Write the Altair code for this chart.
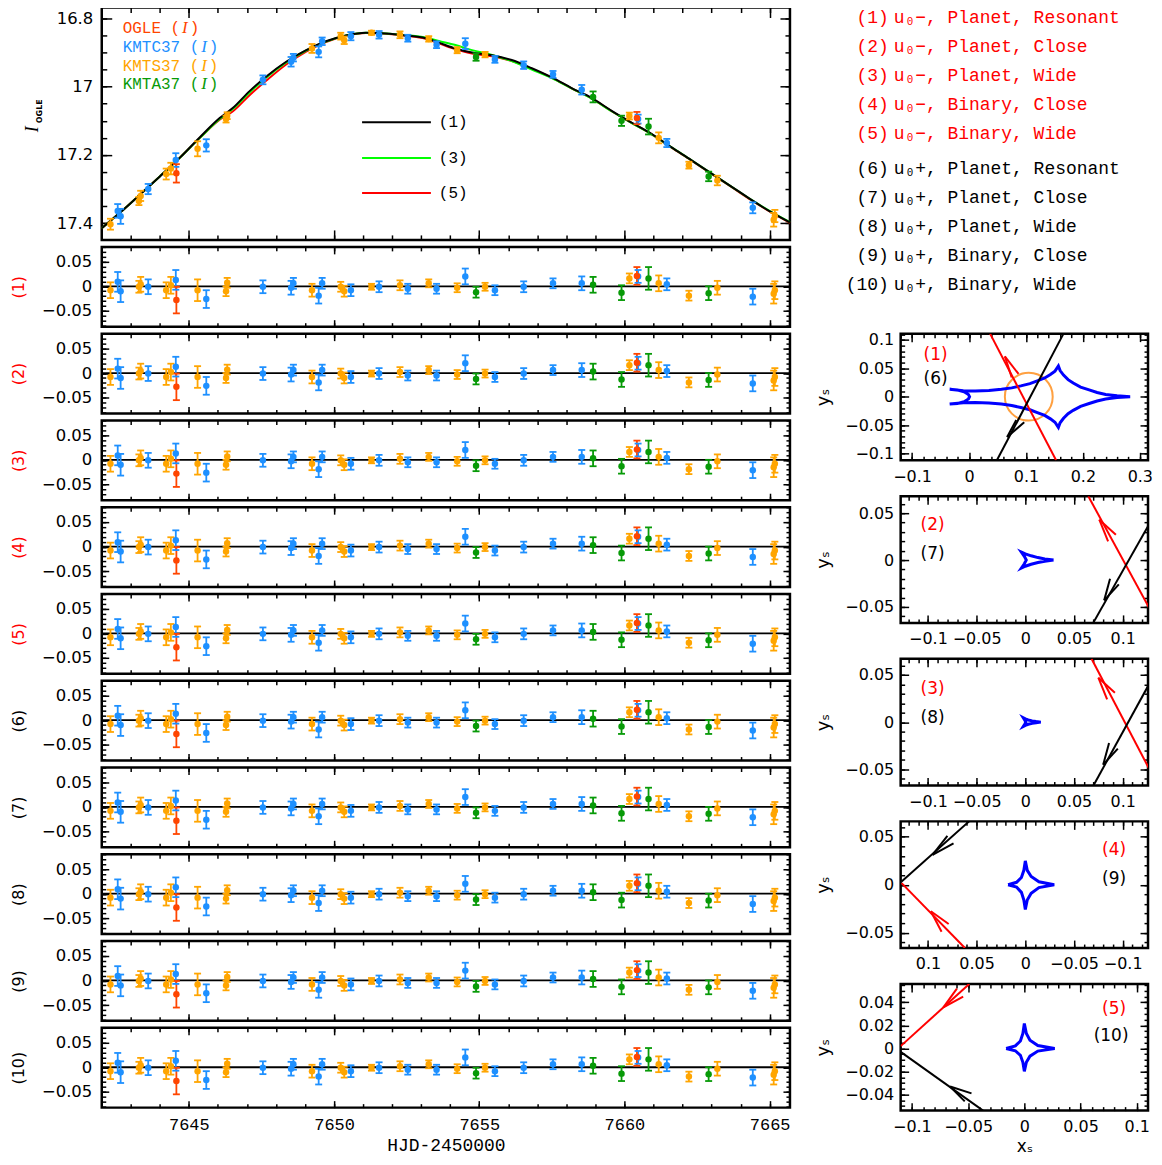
import altair as alt
import numpy as np
import pandas as pd

SANS = "DejaVu Sans"
MONO = "Liberation Mono"
SERIF = "Liberation Serif"
RED = "#FF0000"

# ---------------- photometric data ----------------
DS_NAMES = ["KMTS37", "KMTC37", "KMTA37", "OGLE"]
DS_COLORS = ["#FFA500", "#1E90FF", "#079A07", "#FF4500"]

OGLE_T = [7644.57, 7660.43]
OGLE_MAG = [17.254, 17.092]
OGLE_ERR = [0.027, 0.018]
OGLE_RES = [-0.028, 0.021]

KMTC_T = [7642.55, 7642.65, 7643.60, 7644.55, 7645.60, 7647.55, 7648.52, 7648.60, 7649.47, 7649.59, 7650.58,
          7651.55, 7652.54, 7653.53, 7654.52, 7655.54, 7656.53, 7657.54, 7658.53, 7660.47, 7661.46, 7664.42]
KMTC_MAG = [17.364, 17.380, 17.300, 17.215, 17.172, 16.980, 16.927, 16.915, 16.898, 16.867, 16.852,
            16.848, 16.858, 16.877, 16.874, 16.920, 16.937, 16.964, 17.009, 17.095, 17.165, 17.355]
KMTC_ERR = [0.020, 0.022, 0.015, 0.020, 0.018, 0.013, 0.014, 0.011, 0.016, 0.011, 0.012,
            0.011, 0.010, 0.010, 0.016, 0.010, 0.011, 0.010, 0.014, 0.013, 0.012, 0.016]
KMTC_RES = [0.009, -0.010, -0.001, 0.013, -0.026, -0.001, -0.003, 0.006, -0.019, 0.006, -0.008,
            -0.001, -0.005, -0.005, 0.020, -0.008, -0.001, 0.006, 0.006, 0.020, 0.004, -0.021]

KMTS_T = [7642.30, 7643.28, 7643.34, 7644.22, 7644.38, 7645.30, 7646.28, 7646.32, 7649.24, 7650.23, 7650.35,
          7651.29, 7652.27, 7653.26, 7654.24, 7655.20, 7660.17, 7661.18, 7662.22, 7663.20, 7665.14, 7665.18]
KMTS_MAG = [17.403, 17.335, 17.320, 17.256, 17.240, 17.182, 17.095, 17.085, 16.888, 16.852, 16.864,
            16.842, 16.848, 16.860, 16.893, 16.906, 17.086, 17.150, 17.230, 17.275, 17.390, 17.379]
KMTS_ERR = [0.016, 0.012, 0.015, 0.016, 0.017, 0.022, 0.010, 0.010, 0.013, 0.010, 0.011,
            0.006, 0.010, 0.008, 0.009, 0.008, 0.010, 0.016, 0.010, 0.014, 0.020, 0.018]
KMTS_RES = [-0.008, -0.001, 0.004, -0.008, 0.002, -0.008, -0.010, 0.007, -0.008, -0.001, -0.010,
            -0.001, 0.002, 0.006, -0.003, -0.001, 0.016, 0.006, -0.019, -0.003, -0.015, -0.008]

KMTA_T = [7654.89, 7658.92, 7659.90, 7660.83, 7662.90]
KMTA_MAG = [16.913, 17.030, 17.100, 17.117, 17.263]
KMTA_ERR = [0.011, 0.016, 0.015, 0.023, 0.014]
KMTA_RES = [-0.012, 0.003, -0.013, 0.016, -0.014]

# ---------------- model light curves ----------------
MODEL_T = [7642.0, 7642.63, 7643.32, 7644.0, 7644.69, 7645.38, 7646.06, 7646.52, 7647.09, 7647.67, 7648.35,
           7649.04, 7649.72, 7650.41, 7651.1, 7651.78, 7652.47, 7653.15, 7653.61, 7654.18, 7654.75, 7655.44,
           7656.12, 7656.81, 7657.5, 7658.18, 7658.87, 7659.56, 7660.24, 7660.93, 7661.61, 7662.3, 7662.99,
           7663.67, 7664.36, 7665.04, 7665.7]
MODEL1_MAG = [17.415, 17.369, 17.316, 17.263, 17.208, 17.148, 17.092, 17.062, 17.013, 16.970, 16.927,
              16.893, 16.867, 16.850, 16.842, 16.844, 16.850, 16.858, 16.871, 16.888, 16.900, 16.908,
              16.922, 16.946, 16.973, 17.004, 17.033, 17.071, 17.105, 17.138, 17.177, 17.215, 17.254,
              17.292, 17.331, 17.367, 17.398]
MODEL3_MAG = [17.415, 17.369, 17.316, 17.263, 17.208, 17.150, 17.095, 17.065, 17.017, 16.973, 16.929,
              16.894, 16.868, 16.850, 16.842, 16.844, 16.849, 16.856, 16.866, 16.878, 16.893, 16.907,
              16.925, 16.950, 16.975, 17.005, 17.035, 17.072, 17.106, 17.139, 17.177, 17.215, 17.254,
              17.292, 17.331, 17.366, 17.397]
MODEL5_MAG = [17.415, 17.369, 17.316, 17.263, 17.208, 17.150, 17.097, 17.072, 17.025, 16.982, 16.935,
              16.897, 16.869, 16.851, 16.843, 16.845, 16.851, 16.860, 16.873, 16.890, 16.903, 16.911,
              16.925, 16.948, 16.974, 17.005, 17.034, 17.072, 17.106, 17.139, 17.178, 17.216, 17.255,
              17.293, 17.332, 17.368, 17.399]

# ---------------- caustics & trajectories ----------------
P1_CX = [-0.034, -0.010, 0.011, 0.035, 0.057, 0.075, 0.091, 0.107, 0.120, 0.133, 0.143, 0.151, 0.157,
         0.160, 0.166, 0.174, 0.183, 0.196, 0.211, 0.225, 0.240, 0.260, 0.283,
         0.260, 0.240, 0.225, 0.211, 0.196, 0.183, 0.174, 0.166, 0.160, 0.157,
         0.151, 0.143, 0.133, 0.120, 0.107, 0.091, 0.075, 0.057, 0.035, 0.011, -0.010, -0.034,
         -0.020, -0.0086, -0.001, 0.001, -0.001, -0.0086, -0.020, -0.034]
P1_CY = [0.013, 0.0105, 0.010, 0.011, 0.013, 0.0155, 0.019, 0.023, 0.028, 0.033, 0.039, 0.045, 0.054,
         0.046, 0.038, 0.030, 0.024, 0.017, 0.012, 0.0075, 0.004, 0.0015, 0.0,
         -0.0015, -0.004, -0.0075, -0.012, -0.017, -0.024, -0.030, -0.038, -0.046, -0.054,
         -0.045, -0.039, -0.033, -0.028, -0.023, -0.019, -0.0155, -0.013, -0.011, -0.010, -0.0105, -0.013,
         -0.0118, -0.0088, -0.004, 0.0, 0.004, 0.0088, 0.0118, 0.013]
P1_SRC = [0.105, 0.0, 0.042]  # source circle: x, y, radius

P2_CX = [0.029, 0.020, 0.013, 0.006, 0.000, -0.004, -0.001, 0.001, -0.001, -0.004, 0.000, 0.006, 0.013, 0.020, 0.029]
P2_CY = [0.0, 0.0012, 0.0026, 0.0045, 0.0066, 0.0085, 0.004, 0.0, -0.004, -0.0085, -0.0066, -0.0045, -0.0026, -0.0012, 0.0]
P3_CX = [0.016, 0.011, 0.007, 0.003, 0.000, -0.002, -0.0005, 0.0005, -0.0005, -0.002, 0.000, 0.003, 0.007, 0.011, 0.016]
P3_CY = [0.0, 0.0006, 0.0013, 0.0023, 0.0034, 0.0045, 0.002, 0.0, -0.002, -0.0045, -0.0034, -0.0023, -0.0013, -0.0006, 0.0]
P4_CX = [0.0177, 0.009, 0.004, 0.0015, 0.0, -0.002, -0.006, -0.014, -0.0297, -0.014, -0.006, -0.002, 0.0,
         0.0015, 0.004, 0.009, 0.0177]
P4_CY = [0.0, 0.0025, 0.0075, 0.015, 0.0248, 0.015, 0.0085, 0.003, 0.0, -0.003, -0.009, -0.016, -0.0259,
         -0.016, -0.008, -0.0025, 0.0]
P5_CX = [-0.0162, -0.008, -0.0035, -0.0013, 0.0, 0.0018, 0.005, 0.012, 0.027, 0.012, 0.005, 0.0018, 0.0,
         -0.0013, -0.0035, -0.008, -0.0162]
P5_CY = [0.0, 0.0022, 0.0065, 0.013, 0.0216, 0.013, 0.0072, 0.0025, 0.0, -0.0023, -0.0067, -0.012, -0.0199,
         -0.012, -0.006, -0.002, 0.0]

# trajectories: [x_start, x_end], [y_start, y_end]
P1_RED = ([0.037, 0.153], [0.111, -0.112])
P1_BLK = ([0.049, 0.166], [-0.112, 0.111])
P2_RED = ([0.0647, 0.127], [0.068, -0.0507])
P2_BLK = ([0.0697, 0.127], [-0.067, 0.038])
P3_RED = ([0.068, 0.127], [0.067, -0.049])
P3_BLK = ([0.070, 0.127], [-0.067, 0.040])
P4_BLK = ([0.127, 0.0577], [0.0034, 0.066])
P4_RED = ([0.127, 0.062], [0.0017, -0.066])
P5_RED = ([-0.110, -0.049], [0.002, 0.056])
P5_BLK = ([-0.110, -0.0367], [-0.003, -0.054])

# arrowheads: tip x, tip y, barb1 x, barb1 y, barb2 x, barb2 y
P1_RED_ARR = [0.063, 0.071, 0.087, 0.040, 0.075, 0.034]
P1_BLK_ARR = [0.067, -0.071, 0.083, -0.041, 0.097, -0.045]
P2_RED_ARR = [0.076, 0.043, 0.093, 0.027, 0.085, 0.020]
P2_BLK_ARR = [0.081, -0.043, 0.087, -0.020, 0.096, -0.026]
P3_RED_ARR = [0.075, 0.047, 0.092, 0.031, 0.084, 0.024]
P3_BLK_ARR = [0.080, -0.045, 0.086, -0.022, 0.095, -0.028]
P4_BLK_ARR = [0.0953, 0.031, 0.080, 0.051, 0.0737, 0.043]
P4_RED_ARR = [0.097, -0.0276, 0.0787, -0.041, 0.086, -0.049]
P5_RED_ARR = [-0.072, 0.0356, -0.0544, 0.045, -0.060, 0.052]
P5_BLK_ARR = [-0.066, -0.033, -0.047, -0.039, -0.053, -0.046]

LEG_NUMS = ["(1)", "(2)", "(3)", "(4)", "(5)", "(6)", "(7)", "(8)", "(9)", "(10)"]
LEG_TEXTS = ["u\u2080\u2212, Planet, Resonant", "u\u2080\u2212, Planet, Close", "u\u2080\u2212, Planet, Wide",
             "u\u2080\u2212, Binary, Close", "u\u2080\u2212, Binary, Wide",
             "u\u2080+, Planet, Resonant", "u\u2080+, Planet, Close", "u\u2080+, Planet, Wide",
             "u\u2080+, Binary, Close", "u\u2080+, Binary, Wide"]

# ---------------- tables ----------------
rows = []
for name, T, M, E, R in [("KMTS37", KMTS_T, KMTS_MAG, KMTS_ERR, KMTS_RES),
                         ("KMTC37", KMTC_T, KMTC_MAG, KMTC_ERR, KMTC_RES),
                         ("KMTA37", KMTA_T, KMTA_MAG, KMTA_ERR, KMTA_RES),
                         ("OGLE", OGLE_T, OGLE_MAG, OGLE_ERR, OGLE_RES)]:
    for t, m, e, r in zip(T, M, E, R):
        rows.append(dict(ds=name, t=t, mag=m, mlo=m - e, mhi=m + e, res=r, rlo=r - e, rhi=r + e))
pts = pd.DataFrame(rows)

COL = alt.Color("ds:N", scale=alt.Scale(domain=DS_NAMES, range=DS_COLORS), legend=None)
CAP = "M-1,0L1,0"


def tks(a, b, step):
    n = int(round((b - a) / step))
    return [round(float(a + i * step), 6) for i in range(n + 1)]


def axes_layers(xsc, ysc, xmaj, xmin, ymaj, ymin, xlab=True, xlab_font=SANS, xlab_size=16, xlab_pad=8,
                xtitle=None, xtitle_font=SANS, xtitle_size=17, ylab_size=16, ylab_pad=9,
                ytitle=None, ytitle_color="black", ytitle_pad=12, ytitle_size=16, Lmaj=8, Lmin=4):
    d = pd.DataFrame({"x": [float(xmaj[0])], "y": [float(ymaj[0])]})
    base = alt.Chart(d).mark_point(opacity=0, size=1)
    xa = dict(orient="bottom", values=xmaj, format="~g", ticks=False, domain=False, grid=False, labels=xlab,
              labelFont=xlab_font, labelFontSize=xlab_size, labelColor="black", labelPadding=xlab_pad,
              labelFlush=False, labelOverlap=False, minExtent=0)
    if xtitle:
        xa.update(title=xtitle, titleFont=xtitle_font, titleFontSize=xtitle_size, titleFontWeight="normal",
                  titleColor="black", titlePadding=4)
    else:
        xa["title"] = None
    ya = dict(orient="left", values=ymaj, format="~g", ticks=False, domain=False, grid=False,
              labelFont=SANS, labelFontSize=ylab_size, labelColor="black", labelPadding=ylab_pad,
              labelFlush=False, labelOverlap=False, minExtent=0)
    if ytitle:
        ya.update(title=ytitle, titleFont=SANS, titleFontSize=ytitle_size, titleFontWeight="normal",
                  titleColor=ytitle_color, titlePadding=ytitle_pad)
    else:
        ya["title"] = None
    layers = [base.encode(x=alt.X("x:Q", scale=xsc, axis=alt.Axis(**xa)),
                          y=alt.Y("y:Q", scale=ysc, axis=alt.Axis(**ya)))]

    def tk(orient, vals, L):
        return alt.Axis(orient=orient, values=vals, labels=False, ticks=True, tickSize=L, offset=-L,
                        domain=False, grid=False, title=None, tickColor="black", tickWidth=1.5,
                        minExtent=0, maxExtent=0)

    for ox, oy, vx, vy, L in [("bottom", "left", xmaj, ymaj, Lmaj), ("top", "right", xmaj, ymaj, Lmaj),
                              ("bottom", "left", xmin, ymin, Lmin), ("top", "right", xmin, ymin, Lmin)]:
        layers.append(base.encode(x=alt.X("x:Q", scale=xsc, axis=tk(ox, vx, L)),
                                  y=alt.Y("y:Q", scale=ysc, axis=tk(oy, vy, L))))
    return layers


def txt(s, x, y, size, color="black", font=SANS, angle=0, align="center", style="normal", weight="normal"):
    return alt.Chart(pd.DataFrame({"s": [s]})).mark_text(
        align=align, baseline="middle", fontSize=size, font=font, color=color, angle=angle,
        fontStyle=style, fontWeight=weight).encode(text="s:N", x=alt.value(x), y=alt.value(y))


# ---------------- left column ----------------
W_L = 690
H_TOP = 233
xs = alt.Scale(domain=[7642.0, 7665.7], nice=False, zero=False)
XMAJ = [7645.0, 7650.0, 7655.0, 7660.0, 7665.0]
XMIN = tks(7643, 7665, 1)

ys_top = alt.Scale(domain=[16.768, 17.449], reverse=True, nice=False, zero=False)
top_layers = axes_layers(xs, ys_top, XMAJ, XMIN, [16.8, 17.0, 17.2, 17.4], tks(16.8, 17.4, 0.05),
                         xlab=False, ylab_size=16.5, ylab_pad=9, Lmaj=10, Lmin=5)
mdf = pd.DataFrame({"t": MODEL_T, "m1": MODEL1_MAG, "m3": MODEL3_MAG, "m5": MODEL5_MAG})
for fld, c in [("m5", RED), ("m3", "#00FF00"), ("m1", "black")]:
    top_layers.append(alt.Chart(mdf).mark_line(color=c, strokeWidth=2, interpolate="monotone").encode(
        x=alt.X("t:Q", scale=xs, axis=None), y=alt.Y(f"{fld}:Q", scale=ys_top, axis=None)))
top_layers.append(alt.Chart(pts).mark_rule(strokeWidth=1.8).encode(
    x=alt.X("t:Q", scale=xs, axis=None), y=alt.Y("mlo:Q", scale=ys_top, axis=None), y2="mhi:Q", color=COL))
for fld in ["mlo", "mhi"]:
    top_layers.append(alt.Chart(pts).mark_point(shape=CAP, size=49, filled=False, strokeWidth=1.8, opacity=1).encode(
        x=alt.X("t:Q", scale=xs, axis=None), y=alt.Y(f"{fld}:Q", scale=ys_top, axis=None), color=COL))
top_layers.append(alt.Chart(pts).mark_circle(size=42, opacity=1).encode(
    x=alt.X("t:Q", scale=xs, axis=None), y=alt.Y("mag:Q", scale=ys_top, axis=None), color=COL))
# data-set legend
for i, (name, c) in enumerate([("OGLE", "#FF4500"), ("KMTC37", "#1E90FF"), ("KMTS37", "#FFA500"), ("KMTA37", "#079A07")]):
    y = 21 + i * 18.7
    cw = 9.6
    top_layers.append(txt(name + " (", 21, y, 16, c, MONO, align="left"))
    top_layers.append(txt("I", 21 + (len(name) + 2) * cw + cw / 2, y, 17, c, SERIF, align="center", style="italic"))
    top_layers.append(txt(")", 21 + (len(name) + 3) * cw, y, 16, c, MONO, align="left"))
# model legend
for lab, c, y in [("(1)", "black", 115), ("(3)", "#00FF00", 151), ("(5)", RED, 186)]:
    top_layers.append(alt.Chart(pd.DataFrame({"a": [0]})).mark_rule(color=c, strokeWidth=2).encode(
        x=alt.value(261), x2=alt.value(330), y=alt.value(y)))
    top_layers.append(txt(lab, 338, y, 16, "black", MONO, align="left"))
# y-axis title I_OGLE
top_layers.append(txt("I", -69, 122, 18, "black", SERIF, angle=270, style="italic"))
top_layers.append(txt("OGLE", -62, 104, 8, "black", SANS, angle=270, weight="bold"))
top = alt.layer(*top_layers).resolve_axis(x="independent", y="independent").properties(width=W_L, height=H_TOP)

ys_res = alt.Scale(domain=[-0.082, 0.080], nice=False, zero=False)
RMAJ = [-0.05, 0.0, 0.05]
RMIN = tks(-0.08, 0.08, 0.01)


def resid_panel(k):
    last = k == 10
    L = axes_layers(xs, ys_res, XMAJ, XMIN, RMAJ, RMIN, xlab=last, xlab_font=MONO, xlab_size=17, xlab_pad=9,
                    xtitle="HJD-2450000" if last else None, xtitle_font=MONO, xtitle_size=18,
                    ylab_size=16.5, ylab_pad=10, ytitle=f"({k})", ytitle_color=RED if k <= 5 else "black",
                    ytitle_pad=15, ytitle_size=16, Lmaj=7, Lmin=4)
    L.append(alt.Chart(pd.DataFrame({"r": [0.0]})).mark_rule(color="black", strokeWidth=1.8).encode(
        y=alt.Y("r:Q", scale=ys_res, axis=None)))
    L.append(alt.Chart(pts).mark_rule(strokeWidth=1.8).encode(
        x=alt.X("t:Q", scale=xs, axis=None), y=alt.Y("rlo:Q", scale=ys_res, axis=None), y2="rhi:Q", color=COL))
    for fld in ["rlo", "rhi"]:
        L.append(alt.Chart(pts).mark_point(shape=CAP, size=49, filled=False, strokeWidth=1.8, opacity=1).encode(
            x=alt.X("t:Q", scale=xs, axis=None), y=alt.Y(f"{fld}:Q", scale=ys_res, axis=None), color=COL))
    L.append(alt.Chart(pts).mark_circle(size=42, opacity=1).encode(
        x=alt.X("t:Q", scale=xs, axis=None), y=alt.Y("res:Q", scale=ys_res, axis=None), color=COL))
    return alt.layer(*L).resolve_axis(x="independent", y="independent").properties(width=W_L, height=80)


left = alt.vconcat(top, *[resid_panel(k) for k in range(1, 11)], spacing=7, bounds="flush")

# ---------------- right column ----------------
W_R, H_R = 248, 127


def caustic_panel(xdom, ydom, xrev, xmaj, xmin, ymaj, ymin, cx, cy, trajs, arrows, labels, xtitle=None, src=None):
    xsc = alt.Scale(domain=xdom, nice=False, zero=False, reverse=xrev)
    ysc = alt.Scale(domain=ydom, nice=False, zero=False)
    L = axes_layers(xsc, ysc, xmaj, xmin, ymaj, ymin, xlab=True, xlab_size=16, xlab_pad=8, xtitle=xtitle,
                    xtitle_size=17, ylab_size=16, ylab_pad=7, ytitle="y\u209b", ytitle_pad=12, ytitle_size=18,
                    Lmaj=8, Lmin=4)
    if src is not None:
        diam = 2 * src[2] * W_R / (xdom[1] - xdom[0])
        L.append(alt.Chart(pd.DataFrame({"x": [src[0]], "y": [src[1]]})).mark_point(
            shape="circle", filled=False, size=diam * diam, strokeWidth=2, color="#FFA040", opacity=1).encode(
            x=alt.X("x:Q", scale=xsc, axis=None), y=alt.Y("y:Q", scale=ysc, axis=None)))
    cdf = pd.DataFrame({"x": cx, "y": cy, "i": list(range(len(cx)))})
    L.append(alt.Chart(cdf).mark_line(color="#0000FF", strokeWidth=3, clip=True).encode(
        x=alt.X("x:Q", scale=xsc, axis=None), y=alt.Y("y:Q", scale=ysc, axis=None), order="i:Q"))
    for (tx, ty), c in trajs:
        L.append(alt.Chart(pd.DataFrame({"x": tx, "y": ty, "i": [0, 1]})).mark_line(
            color=c, strokeWidth=2, clip=True).encode(
            x=alt.X("x:Q", scale=xsc, axis=None), y=alt.Y("y:Q", scale=ysc, axis=None), order="i:Q"))
    for a, c in arrows:
        adf = pd.DataFrame({"x": [a[0], a[0]], "y": [a[1], a[1]], "x2": [a[2], a[4]], "y2": [a[3], a[5]]})
        L.append(alt.Chart(adf).mark_rule(color=c, strokeWidth=2, clip=True).encode(
            x=alt.X("x:Q", scale=xsc, axis=None), y=alt.Y("y:Q", scale=ysc, axis=None), x2="x2:Q", y2="y2:Q"))
    for s, c, x, y in labels:
        L.append(txt(s, x, y, 17, c, SANS))
    return alt.layer(*L).resolve_axis(x="independent", y="independent").properties(width=W_R, height=H_R)


Y5 = [-0.05, 0.0, 0.05]
X5 = [-0.1, -0.05, 0.0, 0.05, 0.1]
c1 = caustic_panel([-0.12, 0.3144], [-0.112, 0.111], False, [-0.1, 0.0, 0.1, 0.2, 0.3], tks(-0.12, 0.30, 0.02),
                   [-0.1, -0.05, 0.0, 0.05, 0.1], tks(-0.11, 0.11, 0.01), P1_CX, P1_CY,
                   [(P1_RED, RED), (P1_BLK, "black")], [(P1_RED_ARR, RED), (P1_BLK_ARR, "black")],
                   [("(1)", RED, 35, 21), ("(6)", "black", 35, 45)], src=P1_SRC)
c2 = caustic_panel([-0.128, 0.126], [-0.067, 0.068], False, X5, tks(-0.12, 0.12, 0.01), Y5, tks(-0.06, 0.06, 0.01),
                   P2_CX, P2_CY, [(P2_RED, RED), (P2_BLK, "black")], [(P2_RED_ARR, RED), (P2_BLK_ARR, "black")],
                   [("(2)", RED, 32, 29), ("(7)", "black", 32, 58)])
c3 = caustic_panel([-0.128, 0.126], [-0.067, 0.067], False, X5, tks(-0.12, 0.12, 0.01), Y5, tks(-0.06, 0.06, 0.01),
                   P3_CX, P3_CY, [(P3_RED, RED), (P3_BLK, "black")], [(P3_RED_ARR, RED), (P3_BLK_ARR, "black")],
                   [("(3)", RED, 32, 30), ("(8)", "black", 32, 59)])
c4 = caustic_panel([-0.126, 0.128], [-0.066, 0.066], True, X5, tks(-0.12, 0.12, 0.01), Y5, tks(-0.06, 0.06, 0.01),
                   P4_CX, P4_CY, [(P4_RED, RED), (P4_BLK, "black")], [(P4_RED_ARR, RED), (P4_BLK_ARR, "black")],
                   [("(4)", RED, 214, 29), ("(9)", "black", 214, 58)])
c5 = caustic_panel([-0.11, 0.11], [-0.054, 0.056], False, X5, tks(-0.1, 0.1, 0.01),
                   [-0.04, -0.02, 0.0, 0.02, 0.04], tks(-0.05, 0.055, 0.005),
                   P5_CX, P5_CY, [(P5_RED, RED), (P5_BLK, "black")], [(P5_RED_ARR, RED), (P5_BLK_ARR, "black")],
                   [("(5)", RED, 214, 25), ("(10)", "black", 211, 52)], xtitle="x\u209b")

legdf = pd.DataFrame({"num": LEG_NUMS, "txt": LEG_TEXTS,
                      "col": [RED] * 5 + ["black"] * 5,
                      "ypix": [11 + 29 * i + (6 if i >= 5 else 0) for i in range(10)]})
leg_base = alt.Chart(legdf)
legend = alt.layer(
    leg_base.mark_text(align="right", baseline="middle", font=MONO, fontSize=18).encode(
        x=alt.value(-12), y=alt.Y("ypix:Q", scale=None, axis=None), text="num:N",
        color=alt.Color("col:N", scale=None)),
    leg_base.mark_text(align="left", baseline="middle", font=MONO, fontSize=18).encode(
        x=alt.value(-7), y=alt.Y("ypix:Q", scale=None, axis=None), text="txt:N",
        color=alt.Color("col:N", scale=None)),
).properties(width=W_R, height=291, view=alt.ViewBackground(stroke="transparent"))

right = alt.vconcat(legend, c1, c2, c3, c4, c5, spacing=36, bounds="flush")

chart = alt.hconcat(left, right, spacing=17).properties(
    padding={"left": 1, "top": -4, "right": 0, "bottom": 0}
).configure_view(stroke="black", strokeWidth=2.5)

chart.save("out.html", embed_options={"renderer": "svg", "actions": False})
